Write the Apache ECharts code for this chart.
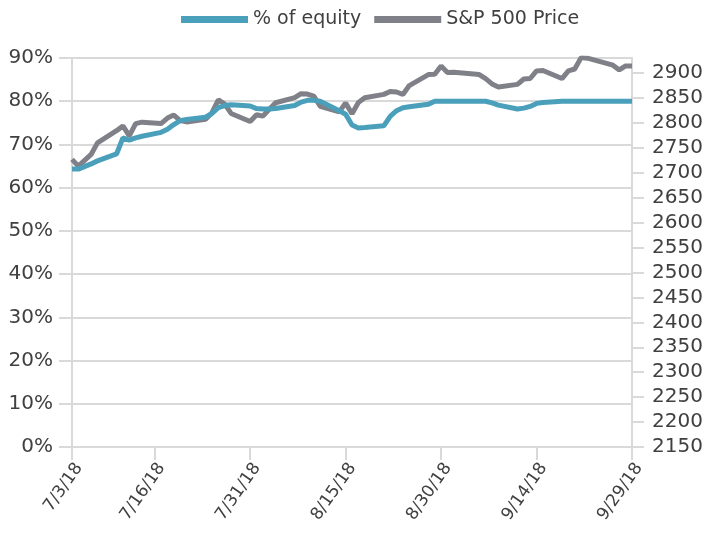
<!DOCTYPE html>
<html><head><meta charset="utf-8">
<script src="https://cdn.jsdelivr.net/npm/echarts@6/dist/echarts.min.js"></script>
<style>html,body{margin:0;padding:0;background:#fff}#c{width:709px;height:534px}</style>
</head><body><div id="c"></div>
<script>
// Observation dates (2018, M/D)
const dates = ['7/3','7/4','7/6','7/7','7/10','7/11','7/12','7/13','7/14','7/17','7/18','7/19','7/20','7/21',
  '7/24','7/25','7/26','7/27','7/28','7/31','8/1','8/2','8/3','8/4','8/7','8/8','8/9','8/10','8/11',
  '8/14','8/15','8/16','8/17','8/18','8/21','8/22','8/23','8/24','8/25','8/28','8/29','8/30','8/31','9/1',
  '9/5','9/6','9/7','9/8','9/11','9/12','9/13','9/14','9/15','9/18','9/19','9/20','9/21','9/22',
  '9/25','9/26','9/27','9/28','9/29'];
const equityPct = [64.3,64.3,65.5,66.2,67.8,71.5,71.0,71.5,71.9,72.8,73.5,74.6,75.5,75.8,
  76.3,77.2,78.5,79.0,79.2,78.9,78.3,78.2,78.2,78.3,79.0,79.8,80.2,80.2,80.0,
  77.8,77.0,74.5,73.8,73.9,74.3,76.5,77.8,78.5,78.7,79.3,80.0,80.0,80.0,80.0,
  80.0,80.0,79.6,79.1,78.2,78.4,78.8,79.5,79.7,80.0,80.0,80.0,80.0,80.0,
  80.0,80.0,80.0,80.0,80.0];
const sp500 = [2726.71,2713.22,2736.61,2759.82,2784.17,2793.84,2774.02,2798.29,2801.31,2798.43,2809.55,2815.62,2804.49,2801.83,
  2806.98,2820.40,2846.07,2837.44,2818.82,2802.60,2816.29,2813.36,2827.22,2840.35,2850.40,2858.45,2857.70,2853.58,2833.28,
  2821.93,2839.96,2818.37,2840.69,2850.13,2857.05,2862.96,2861.82,2856.98,2874.69,2896.74,2897.52,2914.04,2901.13,2901.52,
  2896.72,2888.60,2878.05,2871.68,2877.13,2887.89,2888.92,2904.18,2904.98,2888.80,2904.31,2907.95,2930.75,2929.67,
  2919.37,2915.56,2905.97,2914.00,2913.98];
const xTickLabels = ['7/3/18','7/16/18','7/31/18','8/15/18','8/30/18','9/14/18','9/29/18'];
const rightTicks = [2150,2200,2250,2300,2350,2400,2450,2500,2550,2600,2650,2700,2750,2800,2850,2900];

// calendar-day categories for a date-scaled axis
const cats = [];
for (let d = new Date(2018, 6, 3); d <= new Date(2018, 8, 29); d.setDate(d.getDate() + 1)) {
  cats.push((d.getMonth() + 1) + '/' + d.getDate() + '/18');
}
const idx = {}; dates.forEach((s, i) => idx[s + '/18'] = i);
const eqData = cats.map(c => idx[c] !== undefined ? equityPct[idx[c]] : null);
const spData = cats.map(c => idx[c] !== undefined ? sp500[idx[c]] : null);

const FONT = 'DejaVu Sans';
const TXT = '#404040';
const GRID = '#d9d9d9';
const showTick = (i, v) => xTickLabels.indexOf(v) >= 0;

const chart = echarts.init(document.getElementById('c'), null, {renderer: 'canvas'});
chart.setOption({
  animation: false,
  textStyle: {fontFamily: FONT},
  grid: {left: 72, right: 77, top: 58, bottom: 87},
  legend: {
    top: 5, left: 176, itemWidth: 67, itemHeight: 7, itemGap: 13,
    textStyle: {fontSize: 19, color: TXT, fontFamily: FONT},
    data: [{name: '% of equity', icon: 'rect'}, {name: 'S&P 500 Price', icon: 'rect'}]
  },
  xAxis: {
    type: 'category', data: cats, boundaryGap: false,
    axisLine: {lineStyle: {color: GRID, width: 2}},
    axisTick: {show: true, interval: showTick, length: 13, lineStyle: {color: GRID, width: 2}},
    axisLabel: {interval: showTick, rotate: 55, fontSize: 17, color: TXT, margin: 13, verticalAlign: 'top', fontFamily: FONT},
    splitLine: {show: false}
  },
  yAxis: [{
    type: 'value', min: 0, max: 90, interval: 10, position: 'left',
    axisLine: {show: true, lineStyle: {color: GRID, width: 2}},
    axisTick: {show: true, length: 13, lineStyle: {color: GRID, width: 2}},
    axisLabel: {formatter: '{value}%', fontSize: 20, color: TXT, margin: 19, fontFamily: FONT},
    splitLine: {show: true, lineStyle: {color: GRID, width: 2}}
  }, {
    type: 'value', min: 2150, max: 2930, interval: 50, position: 'right',
    axisLine: {show: true, lineStyle: {color: GRID, width: 2}},
    axisTick: {show: true, length: 12, customValues: rightTicks, lineStyle: {color: GRID, width: 2}},
    axisLabel: {customValues: rightTicks, formatter: v => String(v), fontSize: 20, color: TXT, margin: 20, fontFamily: FONT},
    splitLine: {show: false}
  }],
  series: [{
    name: 'S&P 500 Price', type: 'line', yAxisIndex: 1, data: spData, connectNulls: true,
    symbol: 'none', color: '#808188', lineStyle: {width: 5, color: '#808188'}
  }, {
    name: '% of equity', type: 'line', yAxisIndex: 0, data: eqData, connectNulls: true,
    symbol: 'none', color: '#4aa0bb', lineStyle: {width: 5, color: '#4aa0bb'}
  }]
});
</script>
</body></html>
